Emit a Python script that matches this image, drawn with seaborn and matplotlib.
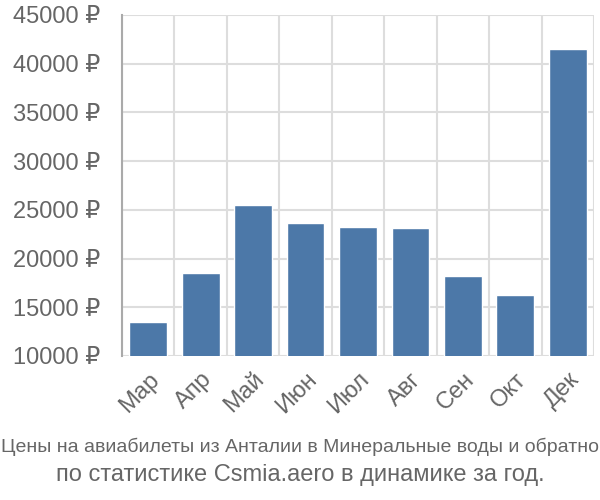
import numpy as np
import pandas as pd
import matplotlib
matplotlib.use("Agg")
import matplotlib.pyplot as plt
import seaborn as sns

months = ["Мар", "Апр", "Май", "Июн", "Июл", "Авг", "Сен", "Окт", "Дек"]
prices = [13450, 18500, 25500, 23650, 23250, 23150, 18250, 16250, 41500]
yticks = [10000, 15000, 20000, 25000, 30000, 35000, 40000, 45000]
title1 = "Цены на авиабилеты из Анталии в Минеральные воды и обратно"
title2 = "по статистике Csmia.aero в динамике за год."

sns.set_style("white")
plt.rcParams['font.family'] = ['Liberation Sans', 'DejaVu Sans']

df = pd.DataFrame({"month": months, "price": prices})

fig = plt.figure(figsize=(6, 5), dpi=100)
ax = fig.add_axes([122/600, 1-356/500, (594-122)/600, (356-15)/500])

sns.barplot(data=df, x="month", y="price", color="#4c78a8", saturation=1,
            width=0.72, ax=ax, zorder=3)

ax.set_ylim(10000, 45000)
ax.set_xlim(-0.5, len(months)-0.5)
ax.set_yticks(yticks)
ax.set_yticklabels([f"{v} ₽" for v in yticks], fontsize=17, color="#666666")
ax.set_xlabel("")
ax.set_ylabel("")

ax.set_xticks(np.arange(len(months)))
ax.set_xticklabels(months, rotation=45, ha="right", rotation_mode="anchor",
                   fontsize=17, color="#666666")
ax.set_xticks(np.arange(len(months)+1)-0.5, minor=True)
ax.tick_params(axis="x", which="major", length=0, pad=9)
ax.tick_params(axis="x", which="minor", length=14, color="#dddddd", width=1.5)
ax.tick_params(axis="y", which="major", length=14, color="#dddddd", width=1.5, pad=2)

ax.grid(axis="y", which="major", color="#dddddd", linewidth=1.5, zorder=0)
ax.grid(axis="x", which="minor", color="#dddddd", linewidth=1.5, zorder=0)
ax.set_axisbelow(True)

for s in ["top", "right", "bottom"]:
    ax.spines[s].set_visible(False)
ax.spines["left"].set_color("#aaaaaa")
ax.spines["left"].set_linewidth(1.5)
ax.spines["left"].set_zorder(4)

fig.text(0.5, 1-447/500, title1, ha="center", va="center", fontsize=14,
         color="#666666", family=['Liberation Sans Narrow', 'Liberation Sans', 'DejaVu Sans'])
fig.text(0.5, 1-475/500, title2, ha="center", va="center", fontsize=17,
         color="#666666")

fig.savefig("out.png", dpi=100)
